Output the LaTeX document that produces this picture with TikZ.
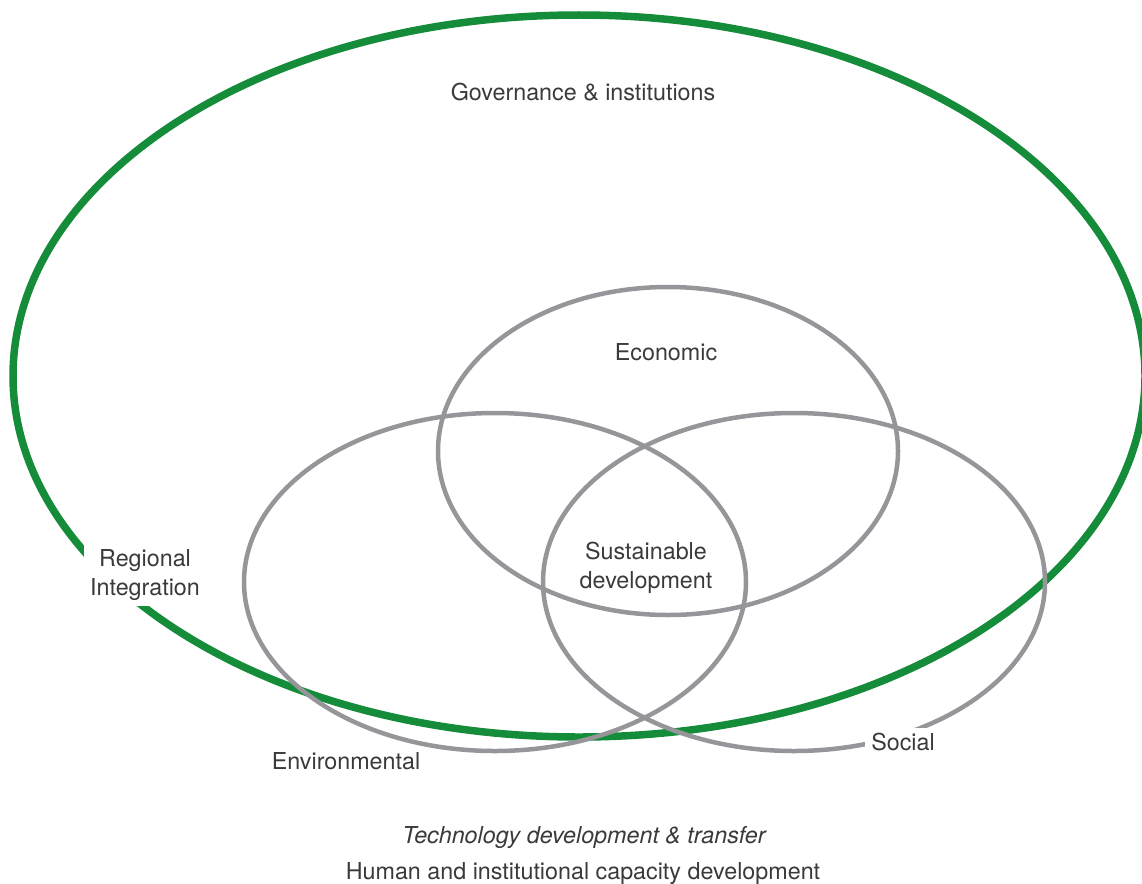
\documentclass[tikz,border=0pt]{standalone}
\usepackage{fontspec}
\setmainfont{TeX Gyre Heros}
\definecolor{govgreen}{HTML}{158C3A}
\definecolor{circgray}{HTML}{96969A}
\definecolor{txt}{HTML}{3A3A3A}
\begin{document}
\begin{tikzpicture}[x=1pt,y=-1pt,
  lbl/.style={text=txt,font=\fontsize{23.3}{29}\selectfont,align=center,inner sep=0pt},
  mask/.style={lbl,fill=white,inner xsep=6pt,inner ysep=5pt},
  green ring/.style={draw=govgreen,line width=7.5pt},
  gray ring/.style={draw=circgray,line width=4.5pt}]
\useasboundingbox (0,0) rectangle (1142,883);
\draw[green ring] (579,376) ellipse [x radius=566, y radius=361];
\draw[gray ring] (668,451) ellipse [x radius=230, y radius=164];
\draw[gray ring] (495,582) ellipse [x radius=251, y radius=169];
\draw[gray ring] (794,582) ellipse [x radius=251, y radius=169];
\node[lbl] (gov) at (583,92) {Governance \& institutions};
\node[lbl] (eco) at (666,352) {Economic};
\node[lbl] (sus) at (646,567.5) {Sustainable\\development};
\node[mask] (reg) at (145,575) {Regional\\Integration};
\node[lbl] (env) at (346,761) {Environmental};
\node[mask] (soc) at (903,742) {Social};
\node[lbl,font=\fontsize{23.3}{29}\selectfont\itshape] (tech) at (584,837) {Technology development \& transfer};
\node[lbl] (hum) at (583,874) {Human and institutional capacity development};
\end{tikzpicture}
\end{document}
